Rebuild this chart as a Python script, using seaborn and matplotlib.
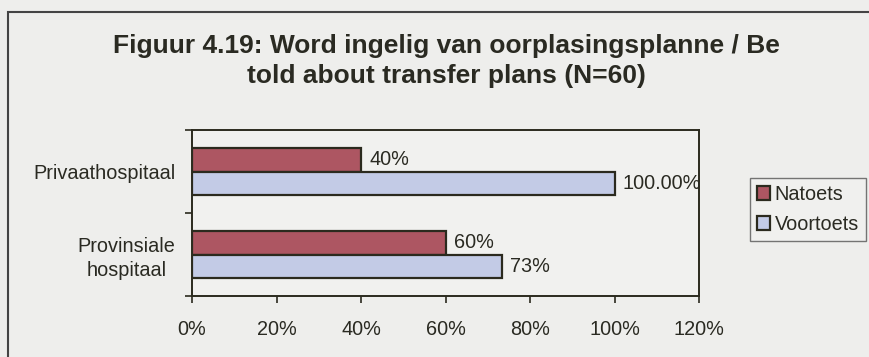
import matplotlib
matplotlib.use("Agg")
import matplotlib.pyplot as plt
import seaborn as sns
import pandas as pd
from matplotlib.patches import Rectangle
from matplotlib.ticker import FuncFormatter

categories = ["Privaathospitaal", "Provinsiale\nhospitaal"]
series = ["Natoets", "Voortoets"]
natoets = [0.40, 0.60]
voortoets = [1.00, 0.733]
value_labels = {"Natoets": ["40%", "60%"], "Voortoets": ["100.00%", "73%"]}
xticks = [0, 0.2, 0.4, 0.6, 0.8, 1.0, 1.2]
title = "Figuur 4.19: Word ingelig van oorplasingsplanne / Be\ntold about transfer plans (N=60)"

df = pd.DataFrame({
    "category": categories * 2,
    "series": [series[0]] * 2 + [series[1]] * 2,
    "value": natoets + voortoets,
})

sns.set_theme(style="white")
plt.rcParams['font.family'] = ['Liberation Sans', 'DejaVu Sans']

bg = "#eeeeec"
edge = "#2b2a1e"
txt = "#2a2a22"
palette = {"Natoets": "#ad5662", "Voortoets": "#c3cbe6"}
fs = 14.3

fig = plt.figure(figsize=(8.69, 3.57), dpi=100, facecolor=bg)
ax = fig.add_axes([192/869, 61/357, (699-192)/869, (296-130)/357])
ax.set_facecolor("#f1f1ef")

sns.barplot(data=df, y="category", x="value", hue="series", hue_order=series,
            order=categories, palette=palette, orient="h", width=0.57,
            edgecolor=edge, linewidth=1.6, ax=ax, legend=True, saturation=1)

for cont, s in zip(ax.containers, series):
    ax.bar_label(cont, labels=value_labels[s], padding=6, fontsize=fs, color=txt)

ax.set_xlim(0, 1.2)
ax.set_ylim(1.5, -0.5)
ax.set_xticks(xticks)
ax.xaxis.set_major_formatter(FuncFormatter(lambda v, p: f"{v*100:.0f}%"))
ax.tick_params(axis="x", labelsize=fs, length=5, width=1.2, color=edge,
               direction="out", pad=12, labelcolor=txt, bottom=True)
ax.set_yticks([0, 1])
ax.set_yticklabels(categories, fontsize=fs, color=txt, multialignment="center",
                   linespacing=1.3)
ax.tick_params(axis="y", length=0, pad=12)
ax.set_yticks([-0.5, 0.5, 1.5], minor=True)
ax.tick_params(axis="y", which="minor", length=5, width=1.2, color=edge, left=True)
ax.set_xlabel("")
ax.set_ylabel("")
for sp in ax.spines.values():
    sp.set_visible(True)
    sp.set_color(edge)
    sp.set_linewidth(1.4)

leg = ax.legend(loc="upper left", bbox_to_anchor=(750/869, 1 - 178/357),
                bbox_transform=fig.transFigure, frameon=True, fontsize=fs,
                handlelength=0.65, handleheight=0.65, handletextpad=0.25,
                borderpad=0.35, labelspacing=0.55, fancybox=False, borderaxespad=0)
leg.get_frame().set_edgecolor("#555555")
leg.get_frame().set_facecolor("#f1f1ef")
leg.get_frame().set_linewidth(1.0)
for t in leg.get_texts():
    t.set_color(txt)

fig.text(446/869, 1 - 61/357, title, ha="center", va="center", fontsize=19,
         fontweight="bold", color=txt, linespacing=1.32)

fig.patches.append(Rectangle((8/869, -0.1), 1.0, 1.1 - 12/357,
                             transform=fig.transFigure, fill=False,
                             edgecolor="#444444", linewidth=1.5))

fig.savefig("out.png", dpi=100, facecolor=bg)
